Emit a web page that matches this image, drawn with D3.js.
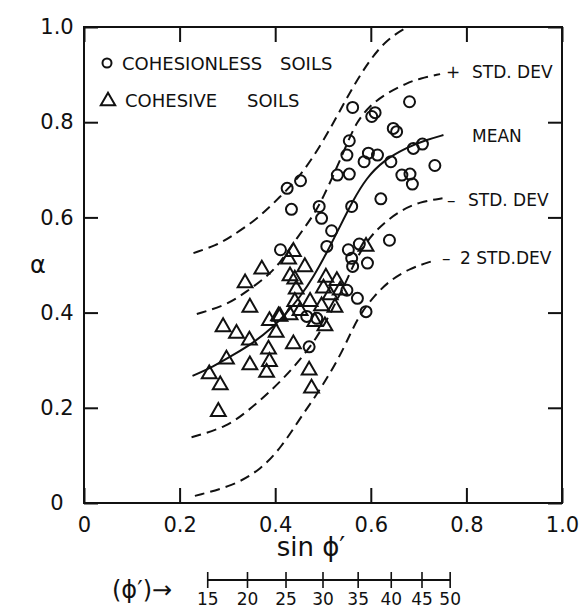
<!DOCTYPE html>
<html>
<head>
<meta charset="utf-8">
<script src="https://cdn.jsdelivr.net/npm/d3@7"></script>
<style>
  html, body { margin: 0; padding: 0; background: #fff; }
  svg { display: block; }
  text { font-family: "DejaVu Sans", sans-serif; fill: #111; }
</style>
</head>
<body>
<svg id="chart" width="582" height="610"></svg>
<script>
// Measured points: [sin φ', α]
const cohesionless = [
  [0.562,0.831],[0.602,0.812],[0.609,0.820],[0.681,0.843],[0.647,0.787],[0.654,0.780],
  [0.555,0.761],[0.550,0.731],[0.595,0.735],[0.614,0.731],[0.586,0.717],[0.642,0.717],
  [0.689,0.745],[0.708,0.754],[0.734,0.709],[0.530,0.689],[0.555,0.691],[0.453,0.677],
  [0.425,0.661],[0.434,0.617],[0.492,0.623],[0.497,0.598],[0.560,0.623],[0.621,0.639],
  [0.665,0.689],[0.682,0.691],[0.687,0.670],[0.518,0.572],[0.508,0.539],[0.639,0.552],
  [0.411,0.532],[0.553,0.532],[0.576,0.544],[0.560,0.514],[0.562,0.497],[0.593,0.504],
  [0.550,0.447],[0.572,0.430],[0.590,0.402],[0.471,0.328],[0.466,0.392],[0.487,0.388]
];
const cohesive = [
  [0.438,0.528],[0.428,0.512],[0.590,0.539],[0.372,0.491],[0.462,0.496],[0.431,0.477],
  [0.441,0.470],[0.506,0.474],[0.529,0.467],[0.337,0.462],[0.444,0.449],[0.501,0.451],
  [0.536,0.447],[0.515,0.437],[0.441,0.423],[0.473,0.423],[0.347,0.411],[0.497,0.414],
  [0.525,0.411],[0.431,0.395],[0.407,0.393],[0.452,0.404],[0.388,0.383],[0.483,0.381],
  [0.504,0.372],[0.291,0.370],[0.319,0.356],[0.402,0.358],[0.346,0.342],[0.438,0.334],
  [0.386,0.323],[0.298,0.302],[0.388,0.297],[0.347,0.290],[0.471,0.279],[0.382,0.274],
  [0.262,0.271],[0.285,0.248],[0.476,0.241],[0.281,0.192],[0.410,0.392]
];

// Mean trend and standard deviation bands
const meanCurve = [
  [0.227,0.267],[0.270,0.286],[0.312,0.311],[0.354,0.336],[0.396,0.370],[0.424,0.399],
  [0.452,0.433],[0.480,0.475],[0.508,0.526],[0.536,0.582],[0.563,0.636],[0.591,0.683],
  [0.626,0.719],[0.675,0.747],[0.717,0.763],[0.752,0.773]
];
const plus1SD = [
  [0.236,0.397],[0.299,0.416],[0.340,0.444],[0.382,0.475],[0.410,0.504],[0.445,0.556],
  [0.480,0.604],[0.501,0.643],[0.529,0.705],[0.550,0.754],[0.570,0.800],[0.598,0.835],
  [0.633,0.861],[0.675,0.882],[0.703,0.892],[0.745,0.901]
];
const plus2SD = [
  [0.229,0.525],[0.278,0.542],[0.305,0.558],[0.361,0.595],[0.410,0.643],[0.452,0.686],
  [0.494,0.749],[0.529,0.812],[0.563,0.875],[0.598,0.931],[0.633,0.973],[0.675,1.0],[0.700,1.01]
];
const minus1SD = [
  [0.225,0.138],[0.299,0.160],[0.345,0.195],[0.396,0.240],[0.438,0.284],[0.480,0.336],
  [0.508,0.384],[0.529,0.426],[0.550,0.468],[0.570,0.515],[0.598,0.559],[0.626,0.587],
  [0.661,0.614],[0.703,0.633],[0.750,0.640]
];
const minus2SD = [
  [0.232,0.015],[0.312,0.036],[0.370,0.070],[0.415,0.120],[0.450,0.175],[0.485,0.225],
  [0.512,0.268],[0.540,0.318],[0.560,0.362],[0.580,0.400],[0.607,0.435],[0.640,0.468],
  [0.682,0.493],[0.728,0.508]
];

const xTicks = [0, 0.2, 0.4, 0.6, 0.8, 1.0];
const yTicks = [0, 0.2, 0.4, 0.6, 0.8, 1.0];
const phiTicks = [15, 20, 25, 30, 35, 40, 45, 50];

const svg = d3.select("#chart");
const x = d3.scaleLinear().domain([0, 1]).range([84, 562]);
const y = d3.scaleLinear().domain([0, 1]).range([503, 27]);
const fmt = d => d === 0 ? "0" : d3.format(".1f")(d);

svg.append("defs").append("clipPath").attr("id", "plotClip")
  .append("rect").attr("x", 84).attr("y", 27).attr("width", 478).attr("height", 476);

// Axes with inward ticks on all four sides
const axStyle = g => {
  g.select(".domain").remove();
  g.selectAll(".tick line").attr("stroke", "#111").attr("stroke-width", 2);
};
svg.append("g").attr("transform", `translate(0,${y(0)})`)
  .call(d3.axisBottom(x).tickValues(xTicks).tickSizeInner(-15).tickSizeOuter(0).tickPadding(14).tickFormat(fmt))
  .call(axStyle)
  .call(g => g.selectAll("text").attr("font-size", 21).attr("font-family", "DejaVu Sans").attr("fill", "#111"));
svg.append("g").attr("transform", `translate(0,${y(1)})`)
  .call(d3.axisTop(x).tickValues(xTicks).tickSizeInner(-15).tickSizeOuter(0).tickFormat(""))
  .call(axStyle);
svg.append("g").attr("transform", `translate(${x(0)},0)`)
  .call(d3.axisLeft(y).tickValues(yTicks).tickSizeInner(-14).tickSizeOuter(0).tickFormat(fmt))
  .call(axStyle)
  .call(g => g.selectAll("text").attr("font-size", 21).attr("font-family", "DejaVu Sans")
    .attr("fill", "#111").attr("text-anchor", "middle").attr("x", -27));
svg.append("g").attr("transform", `translate(${x(1)},0)`)
  .call(d3.axisRight(y).tickValues(yTicks).tickSizeInner(-14).tickSizeOuter(0).tickFormat(""))
  .call(axStyle);

svg.append("rect").attr("x", x(0)).attr("y", y(1))
  .attr("width", x(1) - x(0)).attr("height", y(0) - y(1))
  .attr("fill", "none").attr("stroke", "#111").attr("stroke-width", 2);

// Curves
const line = d3.line().x(d => x(d[0])).y(d => y(d[1])).curve(d3.curveBasis);
const plot = svg.append("g").attr("clip-path", "url(#plotClip)");
const curves = [
  { data: plus2SD, dash: "10,6" },
  { data: plus1SD, dash: "10,6" },
  { data: meanCurve, dash: null },
  { data: minus1SD, dash: "10,6" },
  { data: minus2SD, dash: "10,6" }
];
plot.selectAll("path.curve").data(curves).join("path")
  .attr("class", "curve")
  .attr("d", d => line(d.data))
  .attr("fill", "none").attr("stroke", "#111").attr("stroke-width", 2)
  .attr("stroke-dasharray", d => d.dash);

// Points
plot.selectAll("circle.pt").data(cohesionless).join("circle")
  .attr("class", "pt")
  .attr("cx", d => x(d[0])).attr("cy", d => y(d[1])).attr("r", 5.5)
  .attr("fill", "none").attr("stroke", "#111").attr("stroke-width", 2);
const tri = d3.symbol(d3.symbolTriangle, 95);
plot.selectAll("path.tri").data(cohesive).join("path")
  .attr("class", "tri")
  .attr("transform", d => `translate(${x(d[0])},${y(d[1])})`)
  .attr("d", tri)
  .attr("fill", "none").attr("stroke", "#111").attr("stroke-width", 2)
  .attr("stroke-linejoin", "miter");

// Legend
const leg = svg.append("g");
leg.append("circle").attr("cx", 107).attr("cy", 63).attr("r", 4.5)
  .attr("fill", "none").attr("stroke", "#111").attr("stroke-width", 2);
leg.append("text").attr("x", 122).attr("y", 69.5).attr("font-size", 18).text("COHESIONLESS");
leg.append("text").attr("x", 280).attr("y", 69.5).attr("font-size", 18).text("SOILS");
leg.append("path").attr("transform", "translate(108,101)").attr("d", d3.symbol(d3.symbolTriangle, 90))
  .attr("fill", "none").attr("stroke", "#111").attr("stroke-width", 2);
leg.append("text").attr("x", 125).attr("y", 106.5).attr("font-size", 18).text("COHESIVE");
leg.append("text").attr("x", 247).attr("y", 106.5).attr("font-size", 18).text("SOILS");

// Curve labels
const labels = [
  { x: 446, y: 78, t: "+" }, { x: 472, y: 78, t: "STD. DEV" },
  { x: 472, y: 142, t: "MEAN" },
  { x: 447, y: 206, t: "–" }, { x: 468, y: 206, t: "STD. DEV" },
  { x: 442, y: 264, t: "–" }, { x: 460, y: 264, t: "2 STD.DEV" }
];
svg.selectAll("text.lbl").data(labels).join("text")
  .attr("class", "lbl").attr("x", d => d.x).attr("y", d => d.y)
  .attr("font-size", 17).text(d => d.t);

// Axis titles
svg.append("text").attr("x", 38).attr("y", 273).attr("font-size", 24)
  .attr("text-anchor", "middle").text("α");
svg.append("text").attr("x", 311).attr("y", 556).attr("font-size", 26)
  .attr("text-anchor", "middle").text("sin ϕ′");

// Friction angle scale
const phiX = d => x(Math.sin(d * Math.PI / 180));
const phiY = 580;
const ph = svg.append("g");
ph.append("line").attr("x1", phiX(15)).attr("x2", phiX(50)).attr("y1", phiY).attr("y2", phiY)
  .attr("stroke", "#111").attr("stroke-width", 2);
ph.selectAll("line.pt").data(phiTicks).join("line").attr("class", "pt")
  .attr("x1", phiX).attr("x2", phiX).attr("y1", phiY - 8).attr("y2", phiY + 8)
  .attr("stroke", "#111").attr("stroke-width", 1.6);
ph.selectAll("text").data(phiTicks).join("text")
  .attr("x", phiX).attr("y", phiY + 25).attr("text-anchor", "middle")
  .attr("font-family", "Liberation Sans").attr("font-size", 17).text(d => d);
svg.append("text").attr("x", 112).attr("y", 598).attr("font-size", 24).text("(ϕ′)→");
</script>
</body>
</html>
